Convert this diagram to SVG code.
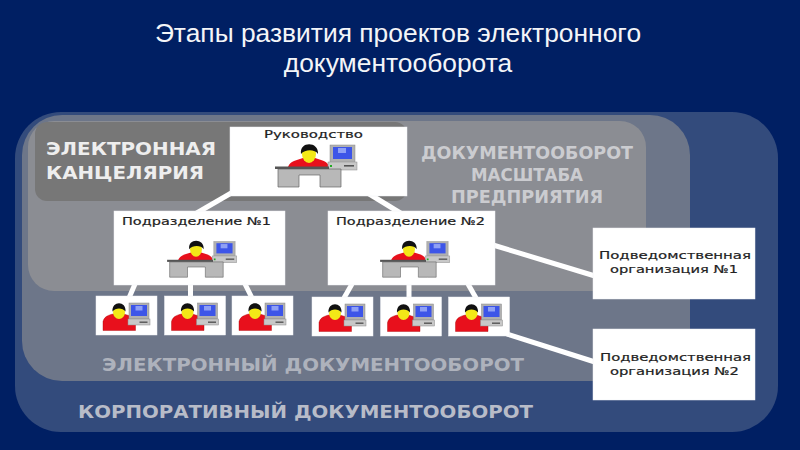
<svg xmlns="http://www.w3.org/2000/svg" xmlns:xlink="http://www.w3.org/1999/xlink" width="800" height="450" viewBox="0 0 800 450">
<style>
.t{font-family:"DejaVu Sans","Liberation Sans",sans-serif;font-weight:bold;font-size:18px}
.n{font-family:"DejaVu Sans","Liberation Sans",sans-serif;fill:#222;font-size:11px;stroke:#222;stroke-width:.2}
.box{fill:#fff;stroke:#eef0f4;stroke-width:.5}
.c{stroke:#fff;stroke-width:5;fill:none}
.h{font-family:"Liberation Sans",sans-serif;fill:#f4f5f8;font-size:26.4px;text-anchor:middle}
</style>
<defs>
<g id="pc">
<rect x="21" y="-10" width="25" height="18" fill="#b0b0b0" stroke="#8a8a8a" stroke-width=".5"/>
<rect x="24" y="-8" width="19" height="12" fill="#3d55e8"/>
<rect x="29" y="-7" width="8" height="5" fill="#8fa0f5"/>
<rect x="19" y="7" width="29" height="8" fill="#c8c8c8" stroke="#8a8a8a" stroke-width=".5"/>
<rect x="35" y="10" width="10" height="1.600" fill="#555"/>
<rect x="21" y="10" width="2" height="2" fill="#2a2"/>
</g>
<g id="desk">
<path d="M-21 12 C-19 6 -12 5 -6 3 L6 3 C12 5 19 6 20 12 Z" fill="#e8101c"/>
<ellipse cx="0" cy="-1" rx="7" ry="9" fill="#f3e817"/>
<path d="M-8 -1 C-10 -14 10 -14 9 -1 C6 -6 -4 -6 -8 -1 Z" fill="#111"/>
<use xlink:href="#pc"/>
<path d="M-31 14 H32 V32 H22 V32 H11 V20 H-10 V32 H-31 Z" fill="#b8b8b8" stroke="#666" stroke-width=".7"/>
<rect x="-34" y="11.500" width="54" height="2.500" fill="#555"/>
</g>
<g id="seat">
<rect x="-30.500" y="-19.500" width="61" height="39" class="box"/>
<path d="M-23.500 15 V6 C-22 0 -16 -1 -11 -2 L-4 -2 C2 0 8 1 9 6 L9 15 Z" fill="#e8101c" stroke="#a00" stroke-width=".4"/>
<ellipse cx="-7.500" cy="-3.500" rx="6" ry="7" fill="#f3e817"/>
<path d="M-14 -4 C-15 -15 0 -15 -1 -4 C-4 -8 -11 -8 -14 -4 Z" fill="#111"/>
<rect x="2.500" y="-12.500" width="20" height="16" fill="#b0b0b0" stroke="#8a8a8a" stroke-width=".5"/>
<rect x="4.500" y="-10.500" width="16" height="11" fill="#3d55e8"/>
<rect x="9" y="-9.500" width="7" height="4.500" fill="#8fa0f5"/>
<rect x="1.500" y="3.500" width="22" height="6" fill="#c8c8c8" stroke="#8a8a8a" stroke-width=".5"/>
<rect x="13" y="6" width="8" height="1.400" fill="#555"/>
</g>
</defs>
<rect width="800" height="450" fill="#001f63"/>
<text class="h" x="398" y="42">Этапы развития проектов электронного</text>
<text class="h" x="398" y="72">документооборота</text>
<rect x="15" y="112" width="763" height="320" rx="46" fill="#334b7c"/>
<rect x="22" y="115" width="668" height="266" rx="40" fill="#6d7689"/>
<rect x="28" y="121" width="618" height="170" rx="26" fill="#8b8d93"/>
<rect x="35" y="122" width="372" height="79" rx="12" fill="#777777"/>
<text class="t" fill="#eeeeee" x="46" y="155" textLength="170" lengthAdjust="spacingAndGlyphs">ЭЛЕКТРОННАЯ</text>
<text class="t" fill="#eeeeee" x="46" y="179" textLength="158" lengthAdjust="spacingAndGlyphs">КАНЦЕЛЯРИЯ</text>
<text class="t" fill="#cbccd0" x="421" y="159" textLength="212" lengthAdjust="spacingAndGlyphs">ДОКУМЕНТООБОРОТ</text>
<text class="t" fill="#cbccd0" x="471" y="181" textLength="112" lengthAdjust="spacingAndGlyphs">МАСШТАБА</text>
<text class="t" fill="#cbccd0" x="451" y="203" textLength="152" lengthAdjust="spacingAndGlyphs">ПРЕДПРИЯТИЯ</text>
<text class="t" fill="#aeb2bc" x="102" y="371" textLength="422" lengthAdjust="spacingAndGlyphs">ЭЛЕКТРОННЫЙ ДОКУМЕНТООБОРОТ</text>
<text class="t" fill="#b8bcc8" x="78" y="418" textLength="455" lengthAdjust="spacingAndGlyphs">КОРПОРАТИВНЫЙ ДОКУМЕНТООБОРОТ</text>
<g id="connectors">
<path class="c" d="M233 192 L195 214"/>
<path class="c" d="M366 192 L402 214"/>
<path class="c" d="M135 284 L129 298"/>
<path class="c" d="M190.500 284 L190.500 298"/>
<path class="c" d="M245 284 L252 298"/>
<path class="c" d="M352 284 L344 298"/>
<path class="c" d="M409 284 L409 298"/>
<path class="c" d="M468 284 L476 298"/>
<path class="c" d="M493 245 L595 276"/>
<path class="c" d="M507 334 L595 362"/>
</g>
<g id="n-ruk">
<rect x="230" y="127" width="177" height="69" class="box"/>
<text class="n" x="264" y="138" textLength="99" lengthAdjust="spacingAndGlyphs">Руководство</text>
<use xlink:href="#desk" transform="translate(309,155)"/>
</g>
<g id="n-pod1">
<rect x="114" y="211" width="171" height="74" class="box"/>
<text class="n" x="122" y="225" textLength="149" lengthAdjust="spacingAndGlyphs">Подразделение №1</text>
<use xlink:href="#desk" transform="translate(196,250) scale(.85)"/>
</g>
<g id="n-pod2">
<rect x="328" y="211" width="167" height="74" class="box"/>
<text class="n" x="336" y="225" textLength="149" lengthAdjust="spacingAndGlyphs">Подразделение №2</text>
<use xlink:href="#desk" transform="translate(409,250) scale(.85)"/>
</g>
<g id="s1"><use xlink:href="#seat" transform="translate(126.500,315.500)"/></g>
<g id="s2"><use xlink:href="#seat" transform="translate(195,315.500)"/></g>
<g id="s3"><use xlink:href="#seat" transform="translate(262.500,315.500)"/></g>
<g id="s4"><use xlink:href="#seat" transform="translate(342.500,316.500)"/></g>
<g id="s5"><use xlink:href="#seat" transform="translate(411,316.500)"/></g>
<g id="s6"><use xlink:href="#seat" transform="translate(479,316.500)"/></g>
<g id="n-org1">
<rect x="593" y="228" width="162" height="71" class="box"/>
<text class="n" x="599" y="259" textLength="152" lengthAdjust="spacingAndGlyphs">Подведомственная</text>
<text class="n" x="610" y="273" textLength="128" lengthAdjust="spacingAndGlyphs">организация №1</text>
</g>
<g id="n-org2">
<rect x="593" y="329" width="162" height="71" class="box"/>
<text class="n" x="600" y="361" textLength="151" lengthAdjust="spacingAndGlyphs">Подведомственная</text>
<text class="n" x="610" y="375" textLength="129" lengthAdjust="spacingAndGlyphs">организация №2</text>
</g>
</svg>
